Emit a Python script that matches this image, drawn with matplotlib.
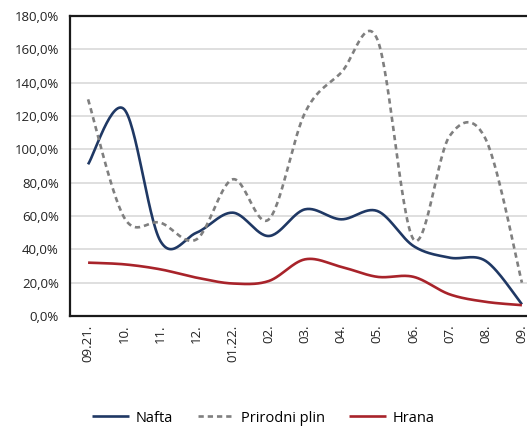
import numpy as np
import matplotlib
matplotlib.use("Agg")
import matplotlib.pyplot as plt
from matplotlib.ticker import FuncFormatter

categories = ["09.21.", "10.", "11.", "12.", "01.22.", "02.", "03.", "04.", "05.", "06.", "07.", "08.", "09."]
nafta = [91, 124, 45, 50, 62, 48, 64, 58, 63, 42, 35, 33, 7]
plin = [130, 59, 56, 46, 82, 58, 122, 146, 166, 46, 108, 106, 20]
hrana = [32, 31, 28, 23, 19.5, 21, 34, 29.5, 23.5, 23.5, 13, 8.5, 6.5]

plt.rcParams['font.family'] = ['Open Sans', 'DejaVu Sans']


def smooth(x, y, n=30):
    """Excel-like smoothed line (Catmull-Rom via cubic Bezier)."""
    x = np.asarray(x, float)
    y = np.asarray(y, float)
    P = np.column_stack([x, y])
    out = []
    for i in range(len(P) - 1):
        p0 = P[i - 1] if i > 0 else P[i]
        p1 = P[i]
        p2 = P[i + 1]
        p3 = P[i + 2] if i + 2 < len(P) else P[i + 1]
        c1 = p1 + (p2 - p0) / 6.0
        c2 = p2 - (p3 - p1) / 6.0
        t = np.linspace(0, 1, n, endpoint=(i == len(P) - 2))[:, None]
        seg = ((1 - t) ** 3) * p1 + 3 * ((1 - t) ** 2) * t * c1 + 3 * (1 - t) * t ** 2 * c2 + t ** 3 * p2
        out.append(seg)
    out = np.vstack(out)
    return out[:, 0], out[:, 1]


fig = plt.figure(figsize=(5.27, 4.28), dpi=100)
ax = fig.add_axes([70 / 527, 112 / 428, 470 / 527, 300 / 428])

xi = np.arange(len(categories))
x1, y1 = smooth(xi, nafta)
x2, y2 = smooth(xi, plin)
x3, y3 = smooth(xi, hrana)

ax.plot(x1, y1, color="#1F3864", lw=1.9, label="Nafta", solid_capstyle="butt")
ax.plot(x2, y2, color="#7F7F7F", lw=1.9, dashes=(2.0, 1.5), label="Prirodni plin")
ax.plot(x3, y3, color="#A8232A", lw=1.9, label="Hrana", solid_capstyle="butt")

ax.set_xlim(-0.5, len(categories) - 0.5)
ax.set_ylim(0, 180)
ax.set_yticks(np.arange(0, 181, 20))
ax.yaxis.set_major_formatter(FuncFormatter(lambda v, p: f"{v:.1f}".replace(".", ",") + "%"))
ax.set_xticks(xi)
ax.set_xticklabels(categories, rotation=90, va="top", ha="center")
ax.tick_params(axis="both", length=0, labelsize=9.5, colors="#222222")
ax.tick_params(axis="x", pad=6)
ax.tick_params(axis="y", pad=8)
ax.grid(axis="y", color="#D9D9D9", lw=1.2)
ax.set_axisbelow(True)
for s in ["left", "bottom", "top"]:
    ax.spines[s].set_color("#1a1a1a")
    ax.spines[s].set_linewidth(1.6)
ax.spines["right"].set_visible(False)

fig.legend(loc="center", bbox_to_anchor=(0.5, 1 - 418 / 428), ncol=3, frameon=False,
           fontsize=10.5, handlelength=2.5, columnspacing=1.7, handletextpad=0.45)

fig.savefig("out.png", dpi=100)
